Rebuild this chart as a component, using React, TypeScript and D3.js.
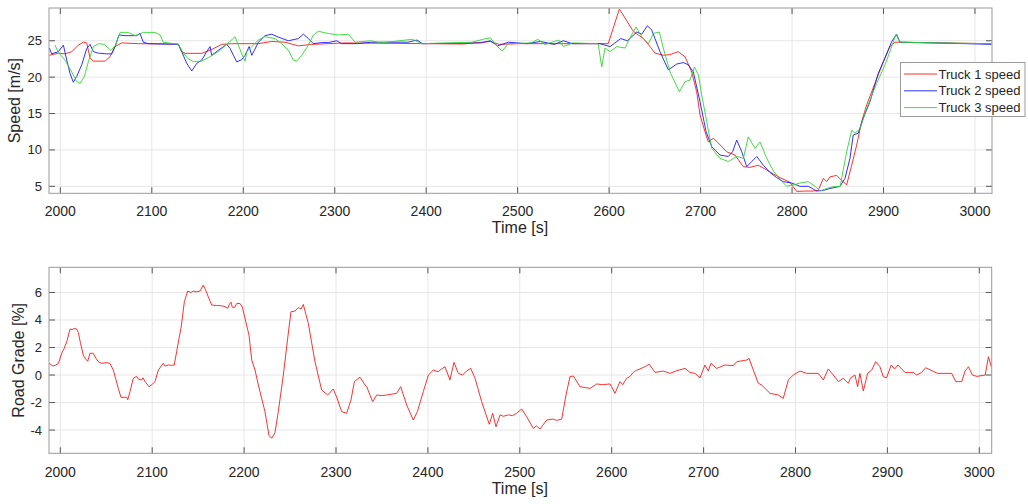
import React from "react";
import * as d3 from "d3";

// ---------------- Data ----------------
const truck1Time = [1988, 1998, 2005, 2012.5, 2019.7, 2025.1, 2028.8, 2032.5, 2036.1, 2048.9, 2054.3, 2059.8, 2067.1, 2085.3, 2129, 2132.7, 2136.3, 2154.6, 2165.5, 2176.4, 2187.3, 2216.5, 2231.1, 2245.7, 2260.2, 2274.8, 2311.2, 2400, 2440, 2470, 2480, 2500, 2599, 2611.2, 2619, 2626.4, 2637.4, 2644.7, 2650.2, 2659.2, 2666.5, 2675.6, 2683, 2690.3, 2695.7, 2699.4, 2704.8, 2708.4, 2713.9, 2719.4, 2728.5, 2737.6, 2746.7, 2754, 2763.1, 2772.3, 2779.6, 2786.8, 2797.7, 2805, 2814.1, 2823.2, 2828.7, 2834.2, 2837.9, 2841.5, 2848.8, 2854.3, 2859.7, 2865.2, 2870.7, 2876.1, 2881.6, 2890.6, 2899.7, 2907, 2912.5, 2960, 3018];
const truck1Speed = [23.0, 23.3, 23.2, 23.5, 24.4, 24.8, 24.7, 22.6, 22.2, 22.2, 22.8, 24.2, 24.7, 24.6, 24.55, 23.5, 23.27, 23.27, 23.8, 24.5, 24.6, 24.6, 24.9, 24.8, 24.3, 24.5, 24.7, 24.6, 24.55, 24.9, 24.5, 24.6, 24.6, 29.35, 27.8, 26.3, 25.3, 24.2, 23.3, 23.0, 23.1, 23.5, 22.8, 20.7, 18.0, 14.8, 12.5, 11.1, 11.6, 10.95, 9.75, 9.3, 7.7, 7.6, 7.9, 7.24, 6.7, 6.2, 5.55, 4.3, 4.35, 4.35, 4.45, 6.1, 5.65, 6.3, 6.5, 5.8, 5.2, 7.9, 10.7, 13.9, 16.2, 19.15, 22.1, 24.2, 24.8, 24.7, 24.6];

const truck2Time = [1988, 1990.5, 1997.8, 2003.3, 2007, 2010.6, 2014.2, 2017.9, 2023.4, 2028.9, 2032.5, 2036.1, 2041.5, 2050.7, 2056.2, 2059.8, 2064.2, 2070.8, 2083.5, 2087.1, 2090.7, 2096.2, 2129, 2132.7, 2138.2, 2143.7, 2149.2, 2154.6, 2160, 2163.7, 2165.5, 2172.8, 2181.9, 2185.6, 2189.2, 2192.9, 2198.3, 2202, 2206.4, 2209.3, 2212.2, 2216.5, 2223.8, 2231.1, 2238.4, 2249.3, 2260.2, 2265.7, 2271.2, 2276.6, 2285.7, 2293, 2302.2, 2307.6, 2325, 2340, 2380, 2390, 2396, 2460, 2470, 2478, 2490, 2510, 2525, 2540, 2550, 2560, 2590, 2601, 2612.7, 2620, 2630.2, 2635.7, 2641.7, 2646.5, 2655.6, 2664.7, 2673.9, 2681.1, 2686.6, 2692.1, 2699.4, 2706, 2712.2, 2721.2, 2730.3, 2735, 2739.5, 2745, 2750.4, 2755.9, 2761.4, 2768.6, 2775.9, 2783.2, 2790.4, 2799.5, 2808.7, 2817.8, 2826.9, 2834.2, 2841.5, 2852.4, 2857.9, 2863.3, 2866.9, 2872.4, 2877.8, 2885.1, 2894.2, 2901.5, 2908.8, 2914.3, 2917.9, 2960, 3018];
const truck2Speed = [24.0, 23.2, 23.5, 24.4, 22.35, 20.5, 19.3, 20.1, 21.7, 23.95, 24.5, 23.5, 23.3, 23.2, 23.2, 24.2, 25.8, 25.7, 25.7, 26.0, 24.8, 24.6, 24.5, 23.5, 21.9, 20.85, 21.9, 22.35, 23.5, 24.2, 23.0, 23.7, 24.5, 23.95, 23.0, 22.1, 22.4, 23.0, 24.2, 23.0, 23.7, 24.8, 25.7, 25.9, 25.5, 25.0, 25.3, 25.9, 25.3, 24.6, 24.75, 24.75, 25.0, 24.6, 24.6, 24.8, 24.8, 25.1, 24.6, 24.7, 25.0, 24.3, 24.8, 24.6, 24.9, 24.5, 25.0, 24.6, 24.6, 24.2, 25.3, 25.0, 26.2, 25.9, 27.06, 26.5, 23.5, 21.0, 21.8, 22.0, 21.7, 20.7, 16.6, 12.5, 10.45, 9.3, 9.1, 9.75, 11.35, 9.75, 7.7, 8.4, 9.1, 7.9, 6.9, 6.2, 5.64, 5.45, 5.0, 5.0, 4.35, 4.45, 4.7, 5.0, 6.1, 8.85, 12.05, 12.3, 14.35, 16.6, 20.5, 22.6, 24.86, 25.9, 24.8, 24.7, 24.5];

const truck3Time = [1994.2, 1997.8, 2005.1, 2012.5, 2017.9, 2021.5, 2026.3, 2030.6, 2036.1, 2042, 2048, 2055, 2060, 2065.3, 2074.4, 2081.7, 2090.8, 2103.5, 2109, 2112.6, 2129, 2134.5, 2140, 2145.4, 2154.6, 2161.9, 2172.8, 2181.9, 2191, 2194.7, 2198.3, 2202, 2203.8, 2209.3, 2216.5, 2223.8, 2234.7, 2242, 2249.3, 2254.7, 2258.4, 2263.9, 2271.2, 2276.6, 2282.1, 2293, 2304, 2314.9, 2322.2, 2340, 2350, 2385, 2395, 2450, 2462, 2470, 2478, 2483, 2490, 2515, 2522, 2530, 2545, 2550, 2560, 2588, 2591.9, 2595.5, 2601, 2608.3, 2617.4, 2624.6, 2629.4, 2635.6, 2642.9, 2648.3, 2654.9, 2659.2, 2666.6, 2676.8, 2683, 2688.5, 2693.3, 2697.6, 2701.2, 2706.7, 2712.2, 2721.2, 2730.3, 2739.5, 2746.8, 2752.2, 2759.5, 2765, 2772.3, 2779.6, 2786.9, 2794.1, 2801.4, 2808.7, 2817.8, 2825.1, 2830.6, 2837.9, 2845.2, 2852.5, 2859.7, 2865.2, 2868.8, 2874.3, 2881.6, 2892.5, 2901.6, 2907, 2913.6, 2917.9, 2960, 3018];
const truck3Speed = [24.4, 23.4, 22.35, 20.7, 19.4, 19.15, 20.1, 22.1, 24.2, 24.6, 24.5, 23.7, 24.3, 26.15, 26.15, 25.7, 26.15, 26.15, 25.8, 24.8, 24.5, 23.3, 22.5, 22.15, 22.2, 22.7, 23.5, 24.5, 25.55, 24.4, 23.2, 22.2, 23.5, 24.2, 25.1, 25.55, 25.3, 24.6, 23.7, 22.35, 22.2, 23.0, 24.4, 25.8, 26.3, 26.0, 25.8, 25.9, 24.8, 25.0, 24.7, 25.2, 24.6, 24.8, 25.2, 25.4, 24.2, 23.6, 24.6, 24.7, 25.2, 24.5, 25.1, 24.2, 24.7, 24.6, 21.4, 24.0, 23.5, 24.2, 24.0, 25.8, 26.9, 25.55, 24.6, 26.0, 26.2, 24.0, 20.7, 18.0, 19.37, 19.6, 21.4, 20.3, 17.55, 13.9, 10.2, 8.85, 8.4, 9.1, 8.85, 11.8, 10.2, 11.1, 8.85, 7.1, 5.95, 5.0, 5.2, 5.45, 5.64, 5.0, 4.35, 4.7, 4.95, 4.95, 9.75, 12.7, 12.3, 12.9, 15.7, 19.15, 21.7, 23.5, 25.9, 24.8, 24.7, 24.6];

const gradeTime = [1988, 1992, 1995, 1998, 2001.5, 2004, 2007, 2010.6, 2013, 2015, 2017.8, 2019.6, 2022, 2025, 2027.6, 2029.8, 2032.3, 2035.9, 2038, 2041.3, 2045, 2050, 2054, 2057.7, 2060, 2063.1, 2066, 2072.3, 2073.4, 2075.8, 2079.4, 2083, 2085, 2088.6, 2090, 2092.2, 2096.5, 2100.1, 2103, 2106.7, 2112, 2114, 2117.6, 2121, 2124, 2126.6, 2129, 2131.3, 2135, 2138.6, 2142, 2144.7, 2148, 2152, 2155.6, 2158, 2161, 2164.7, 2170, 2173.8, 2178, 2182.2, 2184, 2185.8, 2187, 2189.4, 2192, 2195.5, 2198, 2201, 2205.3, 2208.3, 2211.9, 2215.5, 2222.7, 2227.1, 2230, 2233.6, 2237.2, 2242.7, 2247.4, 2251, 2255.4, 2259, 2262, 2264.4, 2269.9, 2277.1, 2284.4, 2291, 2297, 2300.7, 2306.2, 2311.6, 2316.3, 2320, 2326.1, 2331.6, 2333.4, 2339.9, 2344.3, 2350, 2355.2, 2360, 2366, 2370.4, 2376.9, 2384.1, 2388.5, 2395, 2400.5, 2405.9, 2411.3, 2415, 2418.6, 2424, 2428.4, 2433.1, 2437.8, 2442.2, 2446.6, 2451.3, 2458.5, 2466.8, 2470.5, 2474.1, 2478.5, 2482, 2487.5, 2492, 2496.6, 2502, 2507.5, 2514.7, 2518, 2522, 2529.3, 2536.5, 2540, 2545.6, 2550.3, 2554.6, 2558.3, 2565.5, 2570, 2576.4, 2583.7, 2590, 2598.2, 2603.6, 2609, 2612, 2616.3, 2620, 2623.5, 2627, 2630.8, 2636, 2641, 2647.1, 2656.2, 2663.5, 2670, 2679.8, 2685.2, 2690.7, 2696.1, 2701.5, 2705.1, 2708, 2714.2, 2723.3, 2732.3, 2736, 2746.9, 2749.4, 2754.1, 2759.5, 2763.2, 2772.3, 2781.3, 2786.7, 2792.2, 2797.6, 2804.9, 2812.1, 2824.8, 2830.3, 2835.7, 2841.2, 2846.6, 2852, 2857.5, 2860, 2864.7, 2867.6, 2870.1, 2873.8, 2878.5, 2882.9, 2887.2, 2891.9, 2895.5, 2899.1, 2904.2, 2907.8, 2911.5, 2919.1, 2928.2, 2931.8, 2937.3, 2941.6, 2948.9, 2954.4, 2970, 2974.4, 2980.9, 2984.5, 2988.2, 2992.5, 2997.3, 3006.4, 3010, 3013];
const gradeValue = [0.85, 0.65, 0.72, 0.85, 1.58, 1.9, 2.42, 3.34, 3.3, 3.38, 3.34, 3.1, 2.3, 1.45, 1.16, 1.0, 1.58, 1.58, 1.3, 0.97, 0.85, 0.9, 0.85, 0.36, -0.2, -0.97, -1.62, -1.62, -1.8, -1.21, -0.24, -0.1, -0.3, -0.36, -0.2, -0.48, -0.85, -0.68, -0.48, 0.36, 0.85, 0.65, 0.73, 0.7, 0.73, 1.7, 2.6, 3.39, 5.33, 6.1, 6.0, 6.1, 6.05, 6.1, 6.54, 6.2, 5.69, 5.09, 5.05, 5.04, 5.0, 4.85, 5.15, 5.3, 4.95, 4.9, 5.2, 5.2, 4.96, 4.12, 2.9, 1.09, 0.36, -0.73, -2.66, -4.4, -4.6, -4.2, -2.66, 0, 2.66, 4.6, 4.65, 4.9, 4.8, 5.13, 3.75, 0.97, -1.09, -1.45, -1.02, -1.6, -2.66, -2.78, -1.82, -0.48, -0.15, -0.73, -0.85, -1.94, -1.45, -1.5, -1.45, -1.4, -1.33, -0.85, -2.18, -3.27, -2.66, -1.21, 0, 0.36, 0.24, 0.45, 0.6, -0.36, 0.92, 0.12, 0, 0.3, 0.48, -0.24, -1.94, -3.58, -2.78, -3.76, -2.9, -3.0, -2.9, -2.95, -2.78, -2.47, -3.03, -3.88, -3.7, -3.92, -3.27, -3.2, -3.3, -3.2, -1.45, -0.12, -0.07, -0.85, -0.9, -0.97, -0.65, -0.7, -0.65, -1.33, -0.48, -0.7, -0.24, -0.1, 0.19, 0.35, 0.44, 0.6, 0.78, 0.19, 0.29, 0.12, 0.3, 0.48, 0.19, 0.12, -0.2, 0.73, 0.3, 0.85, 0.48, 0.73, 0.68, 0.97, 1.09, 1.21, 0.36, -0.6, -0.73, -1.33, -1.45, -1.7, -0.36, 0, 0.29, 0.12, 0.12, -0.36, 0.44, 0, -0.48, -0.24, -0.6, -0.2, 0, -0.85, 0.12, -1.16, 0.12, 0.36, 0.97, 0.6, -0.12, -0.2, 0.73, 0.44, 0.73, 0.19, 0.19, 0, 0.19, 0.53, 0.3, 0.12, 0.12, -0.48, -0.48, 0.29, 0.6, 0, -0.1, 0, 1.33, 0.6];

const timeTicks = [2000, 2100, 2200, 2300, 2400, 2500, 2600, 2700, 2800, 2900, 3000];
const speedTicks = [5, 10, 15, 20, 25];
const gradeTicks = [-4, -2, 0, 2, 4, 6];
const legendLabels = ["Truck 1 speed", "Truck 2 speed", "Truck 3 speed"];
const seriesColors = ["#ff1a1a", "#1a1aff", "#2ed82e"];

// ---------------- Layout ----------------
const W = 1028;
const H = 504;
const FONT = "'Liberation Sans', Arial, Helvetica, sans-serif";
const TEXT = "#262626";
const GRID = "#e6e6e6";
const BOX = "#9a9a9a";
const TICK = "#555555";

type Pt = [number, number];
const zip = (a: number[], b: number[]): Pt[] => a.map((v, i) => [v, b[i]]);

function Axes(props: {
  x0: number; x1: number; y0: number; y1: number;
  xDomain: [number, number]; yDomain: [number, number];
  yTicks: number[]; yLabel: string; yLabelX: number;
  series: { pts: Pt[]; color: string }[];
  tickLabelY: number; xLabelY: number; clipId: string;
}) {
  const { x0, x1, y0, y1 } = props;
  const xs = d3.scaleLinear().domain(props.xDomain).range([x0, x1]);
  const ys = d3.scaleLinear().domain(props.yDomain).range([y1, y0]);
  const line = d3.line<Pt>().x((d) => xs(d[0])).y((d) => ys(d[1]));
  const tl = 6;
  return (
    <g>
      <rect x={x0} y={y0} width={x1 - x0} height={y1 - y0} fill="#fff" />
      {timeTicks.map((t) => (
        <line key={"gx" + t} x1={xs(t)} x2={xs(t)} y1={y0} y2={y1} stroke={GRID} strokeWidth={1} />
      ))}
      {props.yTicks.map((v) => (
        <line key={"gy" + v} x1={x0} x2={x1} y1={ys(v)} y2={ys(v)} stroke={GRID} strokeWidth={1} />
      ))}
      <defs>
        <clipPath id={props.clipId}>
          <rect x={x0} y={y0} width={x1 - x0} height={y1 - y0} />
        </clipPath>
      </defs>
      <g clipPath={`url(#${props.clipId})`}>
        {props.series.map((s, i) => (
          <path key={i} d={line(s.pts) || ""} fill="none" stroke={s.color} strokeWidth={0.9} strokeLinejoin="round" />
        ))}
      </g>
      {timeTicks.map((t) => (
        <g key={"tx" + t}>
          <line x1={xs(t)} x2={xs(t)} y1={y1} y2={y1 - tl} stroke={TICK} />
          <line x1={xs(t)} x2={xs(t)} y1={y0} y2={y0 + tl} stroke={TICK} />
          <text x={xs(t)} y={props.tickLabelY} textAnchor="middle" fontSize={14} fill={TEXT} fontFamily={FONT}>{t}</text>
        </g>
      ))}
      {props.yTicks.map((v) => (
        <g key={"ty" + v}>
          <line x1={x0} x2={x0 + tl} y1={ys(v)} y2={ys(v)} stroke={TICK} />
          <line x1={x1} x2={x1 - tl} y1={ys(v)} y2={ys(v)} stroke={TICK} />
          <text x={x0 - 7} y={ys(v) + 4.5} textAnchor="end" fontSize={13} fill={TEXT} fontFamily={FONT}>{v}</text>
        </g>
      ))}
      <rect x={x0} y={y0} width={x1 - x0} height={y1 - y0} fill="none" stroke={BOX} strokeWidth={1} />
      <text x={(x0 + x1) / 2 - 0.5} y={props.xLabelY} textAnchor="middle" fontSize={16} fill={TEXT} fontFamily={FONT}>Time [s]</text>
      <text transform={`translate(${props.yLabelX},${(y0 + y1) / 2}) rotate(-90)`} textAnchor="middle" fontSize={16} fill={TEXT} fontFamily={FONT}>{props.yLabel}</text>
    </g>
  );
}

export default function App() {
  const speedSeries = [
    { pts: zip(truck1Time, truck1Speed), color: seriesColors[0] },
    { pts: zip(truck2Time, truck2Speed), color: seriesColors[1] },
    { pts: zip(truck3Time, truck3Speed), color: seriesColors[2] },
  ];
  const gradeSeries = [{ pts: zip(gradeTime, gradeValue), color: seriesColors[0] }];
  const lx0 = 900.5, ly0 = 62.5, lw = 124.5, lh = 54;
  return (
    <svg width={W} height={H} style={{ position: "absolute", left: 0, top: 0, background: "#fff" }}>
      <rect width={W} height={H} fill="#fff" />
      <Axes x0={49} x1={992} y0={8} y1={193.3} xDomain={[1987.6, 3018.6]} yDomain={[4.04, 29.5]}
        yTicks={speedTicks} yLabel="Speed [m/s]" yLabelX={20} series={speedSeries}
        tickLabelY={216} xLabelY={233} clipId="c1" />
      <Axes x0={49} x1={991.7} y0={267.3} y1={453.3} xDomain={[1987.7, 3013.5]} yDomain={[-5.69, 7.83]}
        yTicks={gradeTicks} yLabel="Road Grade [%]" yLabelX={24} series={gradeSeries}
        tickLabelY={477} xLabelY={494} clipId="c2" />
      <g>
        <rect x={lx0} y={ly0} width={lw} height={lh} fill="#fff" stroke={BOX} strokeWidth={1} />
        {legendLabels.map((lab, i) => {
          const cy = 74 + i * 16.8;
          return (
            <g key={lab}>
              <line x1={904} x2={937} y1={cy} y2={cy} stroke={seriesColors[i]} strokeWidth={0.9} />
              <text x={938.5} y={cy + 4.5} fontSize={13} fill={TEXT} fontFamily={FONT}>{lab}</text>
            </g>
          );
        })}
      </g>
    </svg>
  );
}
